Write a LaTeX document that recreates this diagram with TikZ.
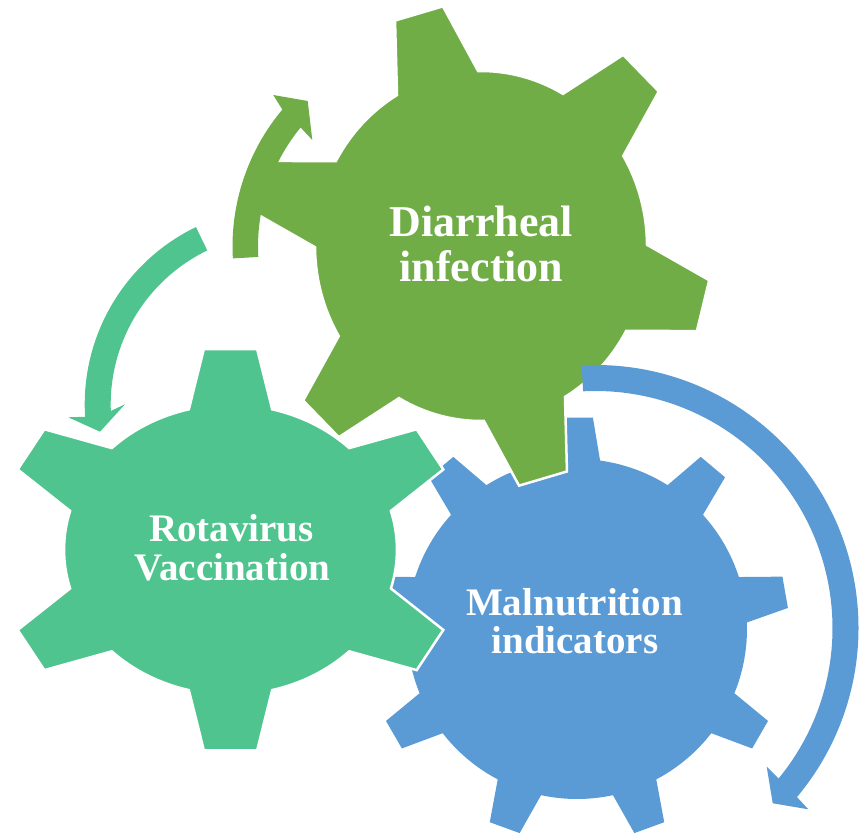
\documentclass[tikz,border=0pt]{standalone}
\usepackage{fontspec}
\setmainfont{Liberation Serif}
\usetikzlibrary{calc}
\definecolor{gGreen}{RGB}{112,173,71}
\definecolor{gBlue}{RGB}{91,155,213}
\definecolor{gTeal}{RGB}{79,196,142}
% #1 teeth, #2 first tooth angle, #3 body radius, #4 tip radius, #5 base half-angle, #6 tip half-angle
\newcommand{\mygearpath}[6]{%
  ({#2-#5}:#3) \foreach \k in {1,...,#1}{
    -- ({#2+(\k-1)*360/#1-#5}:#3) -- ({#2+(\k-1)*360/#1-#6}:#4)
    -- ({#2+(\k-1)*360/#1+#6}:#4) -- ({#2+(\k-1)*360/#1+#5}:#3)
    arc[start angle={#2+(\k-1)*360/#1+#5}, end angle={#2+\k*360/#1-#5}, radius=#3]
  } -- cycle}
\tikzset{
  lbl/.style={text=white, anchor=base, inner sep=0pt, font=\bfseries},
  outl/.style={draw=white, line width=2.5pt, line join=miter}
}
\begin{document}
\begin{tikzpicture}[x=1pt,y=1pt]
\useasboundingbox (0,0) rectangle (859,-834);
\coordinate (G) at (445.5,-246.5);
\coordinate (T) at (281.7,-404.4);
\coordinate (B) at (595.5,-628);
% blue gear
\begin{scope}[shift={(577,-629)}]
  \path[fill=gBlue] \mygearpath{9}{90}{170}{212}{7.8}{4.3};
\end{scope}
% teal gear
\begin{scope}[shift={(230.5,-549.7)}, xscale=1.148]
  \path[fill=gTeal, outl] \mygearpath{6}{90}{145}{202}{14.5}{6.6};
\end{scope}
% green gear
\begin{scope}[shift={(481,-246)}, xscale=0.9486]
  \path[fill=gGreen, outl] \mygearpath{6}{105.7}{175}{243}{14.7}{6.2};
\end{scope}
% arrows
\fill[gGreen] ([shift={(183.2:213)}]G) arc[start angle=183.2, end angle=140, radius=213]
  -- (273.3,-95) -- (307.7,-101) -- (312.3,-140)
  -- ([shift={(140.6:187.5)}]G) arc[start angle=140.6, end angle=183.2, radius=187.5] -- cycle;
\fill[gTeal] ([shift={(115.8:197)}]T) arc[start angle=115.8, end angle=183.6, radius=197]
  -- (68.3,-417.3) -- (100,-431.7) -- (125,-404.3)
  -- ([shift={(182.2:171)}]T) arc[start angle=182.2, end angle=115.8, radius=171] -- cycle;
\fill[gBlue] ([shift={(93:263)}]B) arc[start angle=93, end angle=-40, radius=263]
  -- (808.3,-809.3) -- (772.7,-803.3) -- (766.7,-766.7)
  -- ([shift={(-39.4:237)}]B) arc[start angle=-39.4, end angle=93, radius=237] -- cycle;
% labels
\node[lbl, font=\bfseries\fontsize{44}{44}\selectfont] (diar1) at (481.5,-237) {Diarrheal};
\node[lbl, font=\bfseries\fontsize{44}{44}\selectfont] (diar2) at (481.5,-281) {infection};
\node[lbl, font=\bfseries\fontsize{39}{39}\selectfont] (rota1) at (231.5,-541.7) {Rotavirus};
\node[lbl, font=\bfseries\fontsize{39}{39}\selectfont] (rota2) at (232.5,-580) {Vaccination};
\node[lbl, font=\bfseries\fontsize{39}{39}\selectfont] (maln1) at (574.5,-615) {Malnutrition};
\node[lbl, font=\bfseries\fontsize{39}{39}\selectfont] (maln2) at (575,-653) {indicators};
\end{tikzpicture}
\end{document}
